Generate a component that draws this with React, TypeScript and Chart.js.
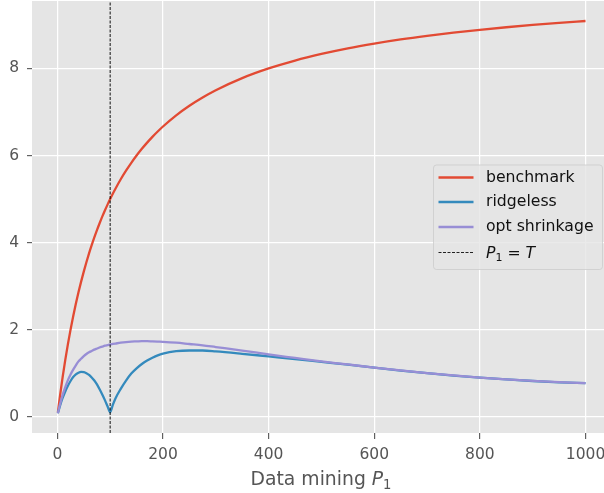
import React, { useEffect, useRef } from "react";
import { Chart, registerables } from "chart.js";

Chart.register(...registerables);

const P = [1, 5, 10, 15, 20, 25, 30, 35, 40, 45, 50, 55, 60, 65, 70, 75, 80, 85, 90, 95, 100, 105, 110, 120, 130, 140, 150, 160, 170, 180, 190, 200, 225, 250, 275, 300, 350, 400, 450, 500, 550, 600, 650, 700, 750, 800, 850, 900, 950, 1000];

const benchmark = [0.099, 0.476, 0.909, 1.304, 1.667, 2.0, 2.308, 2.593, 2.857, 3.103, 3.333, 3.548, 3.75, 3.939, 4.118, 4.286, 4.444, 4.595, 4.737, 4.872, 5.0, 5.122, 5.238, 5.455, 5.652, 5.833, 6.0, 6.154, 6.296, 6.429, 6.552, 6.667, 6.923, 7.143, 7.333, 7.5, 7.778, 8.0, 8.182, 8.333, 8.462, 8.571, 8.667, 8.75, 8.824, 8.889, 8.947, 9.0, 9.048, 9.091];

const ridgeless = [0.08, 0.25, 0.43, 0.58, 0.71, 0.82, 0.91, 0.97, 1.01, 1.03, 1.025, 1.0, 0.96, 0.9, 0.83, 0.74, 0.63, 0.51, 0.38, 0.24, 0.1, 0.27, 0.42, 0.64, 0.83, 0.99, 1.11, 1.21, 1.29, 1.355, 1.41, 1.45, 1.505, 1.52, 1.52, 1.5, 1.445, 1.385, 1.325, 1.26, 1.195, 1.125, 1.06, 1.0, 0.945, 0.895, 0.855, 0.82, 0.79, 0.77];

const optShrinkage = [0.08, 0.28, 0.5, 0.68, 0.84, 0.97, 1.08, 1.18, 1.27, 1.33, 1.39, 1.44, 1.48, 1.51, 1.54, 1.565, 1.59, 1.61, 1.63, 1.645, 1.66, 1.67, 1.68, 1.7, 1.715, 1.725, 1.73, 1.735, 1.735, 1.73, 1.725, 1.72, 1.7, 1.67, 1.64, 1.6, 1.52, 1.43, 1.35, 1.27, 1.2, 1.128, 1.062, 1.002, 0.947, 0.897, 0.857, 0.822, 0.792, 0.772];

const T = 100;
const xTicks = [0, 200, 400, 600, 800, 1000];
const yTicks = [0, 2, 4, 6, 8];
const X_MIN = -48;
const X_MAX = 1035;
const Y_MIN = -0.375;
const Y_MAX = 9.55;

const legendLabels = ["benchmark", "ridgeless", "opt shrinkage"];
const colors = ["#E24A33", "#348ABD", "#988ED5"];

const FONT = "'DejaVu Sans', sans-serif";

function drawMathP1(ctx: CanvasRenderingContext2D, x: number, y: number, size: number) {
  ctx.font = `italic ${size}px ${FONT}`;
  ctx.fillText("P", x, y);
  x += ctx.measureText("P").width;
  ctx.font = `${size * 0.7}px ${FONT}`;
  ctx.fillText("1", x, y + size * 0.2);
  x += ctx.measureText("1").width;
  return x;
}

const bgPlugin = {
  id: "bg",
  beforeDraw(chart: any) {
    const { ctx, chartArea: a } = chart;
    ctx.save();
    ctx.fillStyle = "#E5E5E5";
    ctx.fillRect(a.left, a.top, a.right - a.left, a.bottom - a.top);
    ctx.restore();
  },
};

const decoPlugin = {
  id: "deco",
  afterDraw(chart: any) {
    const ctx: CanvasRenderingContext2D = chart.ctx;
    ctx.save();
    // x axis title
    const size = 18.8;
    ctx.fillStyle = "#555555";
    ctx.textBaseline = "alphabetic";
    ctx.textAlign = "left";
    ctx.font = `${size}px ${FONT}`;
    const t1 = "Data mining ";
    const w1 = ctx.measureText(t1).width;
    ctx.font = `italic ${size}px ${FONT}`;
    const wP = ctx.measureText("P").width;
    ctx.font = `${size * 0.7}px ${FONT}`;
    const w2 = ctx.measureText("1").width;
    const total = w1 + wP + w2;
    let x = 321 - total / 2;
    const by = 485;
    ctx.font = `${size}px ${FONT}`;
    ctx.fillText(t1, x, by);
    x += w1;
    drawMathP1(ctx, x, by, size);

    // legend
    const L = 433.5, Tp = 165, R = 602.5, B = 269.5, r = 3;
    ctx.beginPath();
    ctx.moveTo(L + r, Tp);
    ctx.lineTo(R - r, Tp);
    ctx.quadraticCurveTo(R, Tp, R, Tp + r);
    ctx.lineTo(R, B - r);
    ctx.quadraticCurveTo(R, B, R - r, B);
    ctx.lineTo(L + r, B);
    ctx.quadraticCurveTo(L, B, L, B - r);
    ctx.lineTo(L, Tp + r);
    ctx.quadraticCurveTo(L, Tp, L + r, Tp);
    ctx.closePath();
    ctx.fillStyle = "rgba(229,229,229,0.8)";
    ctx.fill();
    ctx.strokeStyle = "rgba(204,204,204,0.8)";
    ctx.lineWidth = 1;
    ctx.stroke();

    const rows = [177.5, 202, 227, 252.5];
    const fs = 15.7;
    for (let i = 0; i < 4; i++) {
      const y = rows[i];
      ctx.beginPath();
      ctx.moveTo(438.5, y);
      ctx.lineTo(473.5, y);
      if (i < 3) {
        ctx.setLineDash([]);
        ctx.strokeStyle = colors[i];
        ctx.lineWidth = 2.3;
      } else {
        ctx.setLineDash([3, 1.5]);
        ctx.strokeStyle = "rgba(0,0,0,0.85)";
        ctx.lineWidth = 1.1;
      }
      ctx.stroke();
      ctx.setLineDash([]);
      ctx.fillStyle = "#111111";
      ctx.textBaseline = "middle";
      if (i < 3) {
        ctx.font = `${fs}px ${FONT}`;
        ctx.fillText(legendLabels[i], 486, y);
      } else {
        ctx.textBaseline = "alphabetic";
        const base = y + fs * 0.36;
        let xx = drawMathP1(ctx, 486, base, fs);
        ctx.font = `${fs}px ${FONT}`;
        ctx.fillText(" = ", xx, base);
        xx += ctx.measureText(" = ").width;
        ctx.font = `italic ${fs}px ${FONT}`;
        ctx.fillText("T", xx, base);
      }
    }
    ctx.restore();
  },
};

function toPts(vals: number[]) {
  return P.map((p, i) => ({ x: p, y: vals[i] }));
}

export default function App() {
  const ref = useRef<HTMLCanvasElement>(null);
  useEffect(() => {
    if (!ref.current) return;
    const chart = new Chart(ref.current, {
      type: "line",
      data: {
        datasets: [
          { label: legendLabels[0], data: toPts(benchmark), borderColor: colors[0], borderWidth: 2.3, pointRadius: 0, cubicInterpolationMode: "monotone", order: 4 } as any,
          { label: legendLabels[1], data: toPts(ridgeless), borderColor: colors[1], borderWidth: 2.3, pointRadius: 0, cubicInterpolationMode: "monotone", order: 3 } as any,
          { label: legendLabels[2], data: toPts(optShrinkage), borderColor: colors[2], borderWidth: 2.3, pointRadius: 0, cubicInterpolationMode: "monotone", order: 2 } as any,
          { label: "P1 = T", data: [{ x: T, y: Y_MIN }, { x: T, y: Y_MAX }], borderColor: "rgba(0,0,0,0.85)", borderWidth: 1.1, borderDash: [3, 1.5], pointRadius: 0, order: 1 } as any,
        ],
      },
      options: {
        animation: false,
        responsive: false,
        maintainAspectRatio: false,
        layout: { padding: { top: 1, right: 0, left: 0, bottom: 0 } },
        plugins: { legend: { display: false }, tooltip: { enabled: false } },
        scales: {
          x: {
            type: "linear",
            min: X_MIN,
            max: X_MAX,
            afterBuildTicks: (s: any) => { s.ticks = xTicks.map((v) => ({ value: v })); },
            afterFit: (s: any) => { s.height = 60; s.paddingLeft = 0; s.paddingRight = 0; },
            grid: { color: "#FFFFFF", lineWidth: 1.25, tickColor: "#555555", tickLength: 6, tickWidth: 1.1 },
            border: { display: false },
            ticks: { color: "#555555", font: { family: FONT, size: 15.5 }, padding: 7, maxRotation: 0, autoSkip: false, callback: (v: any) => String(v) },
          },
          y: {
            type: "linear",
            min: Y_MIN,
            max: Y_MAX,
            afterBuildTicks: (s: any) => { s.ticks = yTicks.map((v) => ({ value: v })); },
            afterFit: (s: any) => { s.width = 32; s.paddingTop = 0; s.paddingBottom = 0; },
            grid: { color: "#FFFFFF", lineWidth: 1.25, tickColor: "#555555", tickLength: 5, tickWidth: 1.1 },
            border: { display: false },
            ticks: { color: "#555555", font: { family: FONT, size: 15.5 }, padding: 8, callback: (v: any) => String(v) },
          },
        },
      },
      plugins: [bgPlugin, decoPlugin],
    });
    return () => chart.destroy();
  }, []);
  return (
    <div style={{ position: "absolute", left: 0, top: 0, width: 604, height: 493 }}>
      <canvas ref={ref} width={604} height={493} style={{ width: 604, height: 493, display: "block" }} />
    </div>
  );
}
